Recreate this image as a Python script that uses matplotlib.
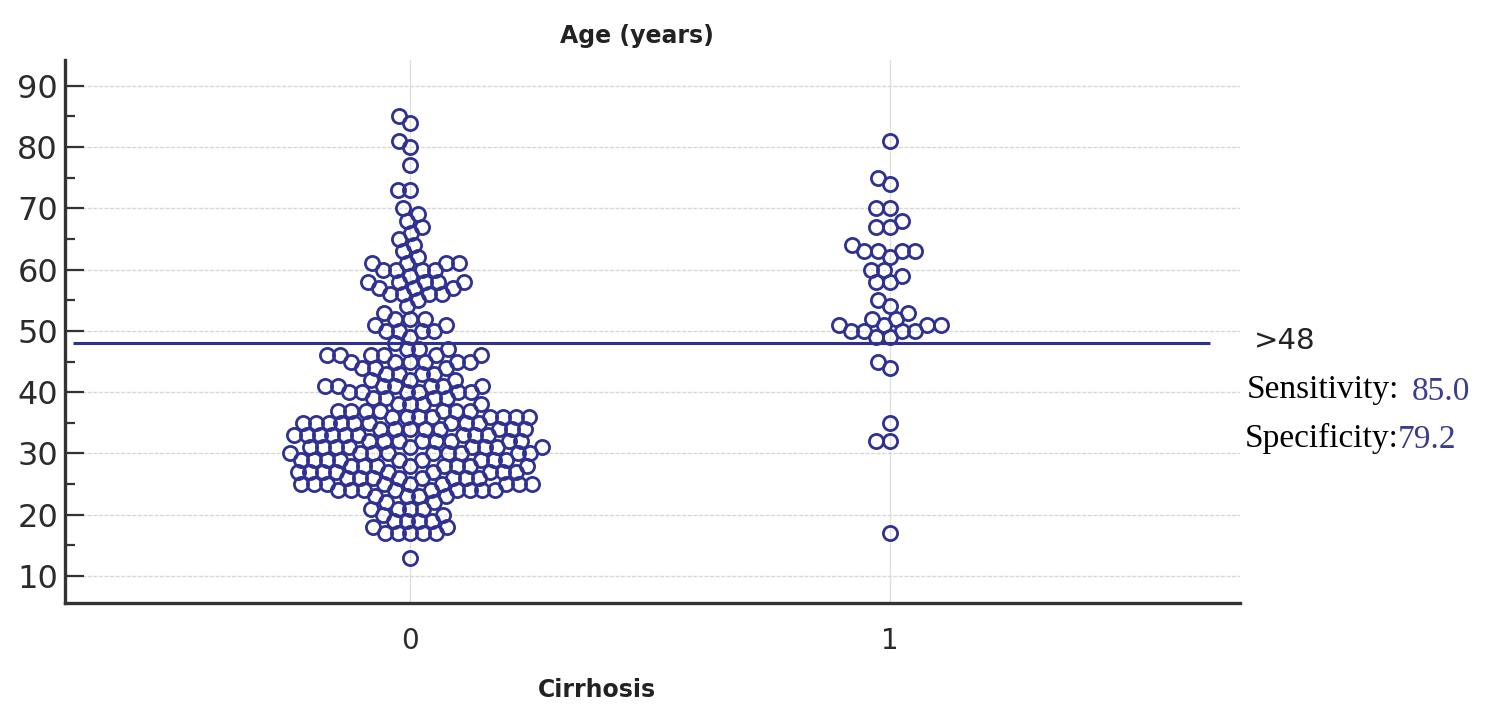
import numpy as np
import matplotlib
matplotlib.use('Agg')
import matplotlib.pyplot as plt

# ---- data ----
groups = ['0', '1']
ages0 = [13, 17, 18, 19, 20, 21, 22, 23, 24, 25, 26, 27, 28, 29, 30, 31, 32, 33, 34, 35,
         36, 37, 38, 39, 40, 41, 42, 43, 44, 45, 46, 47, 48,
         49, 50, 51, 52, 53, 54, 55, 56, 57, 58, 59, 60, 61, 62, 63, 64, 65, 66, 67, 68,
         69, 70, 73, 77, 80, 81, 84, 85]
counts0 = [1, 5, 2, 4, 2, 4, 2, 4, 9, 9, 8, 9, 8, 9, 9, 9, 8, 9, 8, 9,
           8, 7, 4, 4, 6, 7, 3, 4, 3, 6, 6, 3, 1,
           1, 4, 2, 3, 1, 1, 1, 4, 3, 5, 1, 4, 4, 1, 1, 1, 1, 1, 1, 1,
           1, 1, 2, 1, 1, 1, 1, 1]
ages1 = [17, 32, 35, 44, 45, 49, 50, 51, 52, 53, 54, 55, 58, 59, 60, 62, 63, 64,
         67, 68, 70, 74, 75, 81]
counts1 = [1, 2, 1, 1, 1, 2, 4, 4, 2, 1, 1, 1, 2, 1, 2, 1, 4, 1,
           2, 1, 2, 1, 1, 1]
cutoff = 48
sensitivity = 85.0
specificity = 79.2

values = [np.repeat(ages0, counts0), np.repeat(ages1, counts1)]

W, H = 1500, 728
fig = plt.figure(figsize=(W / 100, H / 100), dpi=100)
ax_l, ax_r, ax_t, ax_b = 65, 1240, 60, 603
ax = fig.add_axes([ax_l / W, 1 - ax_b / H, (ax_r - ax_l) / W, (ax_b - ax_t) / H])
xlim = (-0.72, 1.73)
ylim = (5.6, 94.2)
ax.set_xlim(*xlim)
ax.set_ylim(*ylim)

xscale = (ax_r - ax_l) / (xlim[1] - xlim[0])   # px per x unit
yscale = (ax_b - ax_t) / (ylim[1] - ylim[0])   # px per year

blue = '#2E3192'


def swarm(vals, D):
    vals = np.sort(np.asarray(vals, dtype=float))
    placed = []
    xs = []
    for v in vals:
        y = v * yscale
        near = [(px, py) for px, py in placed if abs(py - y) < D]
        cands = [0.0]
        for px, py in near:
            dx = np.sqrt(D * D - (py - y) ** 2)
            cands += [px - dx, px + dx]
        cands = sorted(cands, key=lambda c: (abs(c), c))
        chosen = cands[-1]
        for c in cands:
            if all((c - px) ** 2 + (y - py) ** 2 >= D * D - 1e-6 for px, py in near):
                chosen = c
                break
        placed.append((chosen, y))
        xs.append(chosen)
    return np.array(xs) / xscale, vals


for i, vals in enumerate(values):
    dx, vs = swarm(vals, 12.8 if i == 0 else 13.5)
    ax.plot(i + dx, vs, 'o', ms=10.2, mfc='none', mec=blue, mew=2.0, zorder=3)

# cutoff line
ax.plot([xlim[0] + 8 / xscale, (1210 - ax_l) / xscale + xlim[0]], [cutoff, cutoff],
        color=blue, lw=2.2, zorder=4, solid_capstyle='butt')

# axes styling
for s in ['top', 'right']:
    ax.spines[s].set_visible(False)
for s in ['left', 'bottom']:
    ax.spines[s].set_color('#333333')
    ax.spines[s].set_linewidth(2.4)

ax.set_yticks(np.arange(10, 91, 10))
ax.set_yticks(np.arange(15, 90, 10), minor=True)
ax.tick_params(axis='y', which='major', direction='in', length=14, width=1.6,
               color='#333333', labelsize=23, labelcolor='#2b2b2b', pad=5)
ax.tick_params(axis='y', which='minor', direction='in', length=7, width=1.6, color='#333333')
ax.set_xticks([0, 1])
ax.set_xticklabels(groups)
ax.tick_params(axis='x', which='major', length=0, labelsize=20, labelcolor='#2b2b2b', pad=17)

ax.grid(axis='y', which='major', color='#d8d8d8', lw=1.0, ls=(0, (3, 1)), zorder=0)
ax.grid(axis='x', which='major', color='#e0e0e0', lw=1.0, zorder=0)
ax.set_axisbelow(True)


def fx(px):
    return px / W


def fy(py):
    return 1 - py / H


fig.text(fx(637), fy(36), 'Age (years)', ha='center', va='center', fontsize=17,
         fontweight='bold', color='#222222')
fig.text(fx(597), fy(690), 'Cirrhosis', ha='center', va='center', fontsize=17,
         fontweight='bold', color='#222222')

fig.text(fx(1254), fy(341), '>%d' % cutoff, ha='left', va='center', fontsize=21,
         color='#222222')
fig.text(fx(1247), fy(390), 'Sensitivity:', ha='left', va='center', fontsize=24,
         family='Liberation Serif', color='black')
fig.text(fx(1412), fy(392), '%.1f' % sensitivity, ha='left', va='center', fontsize=24,
         family='Liberation Serif', color='#3b3b8f')
fig.text(fx(1245), fy(438), 'Specificity:', ha='left', va='center', fontsize=24,
         family='Liberation Serif', color='black')
fig.text(fx(1398), fy(440), '%.1f' % specificity, ha='left', va='center', fontsize=24,
         family='Liberation Serif', color='#3b3b8f')

fig.savefig('out.png', dpi=100)
